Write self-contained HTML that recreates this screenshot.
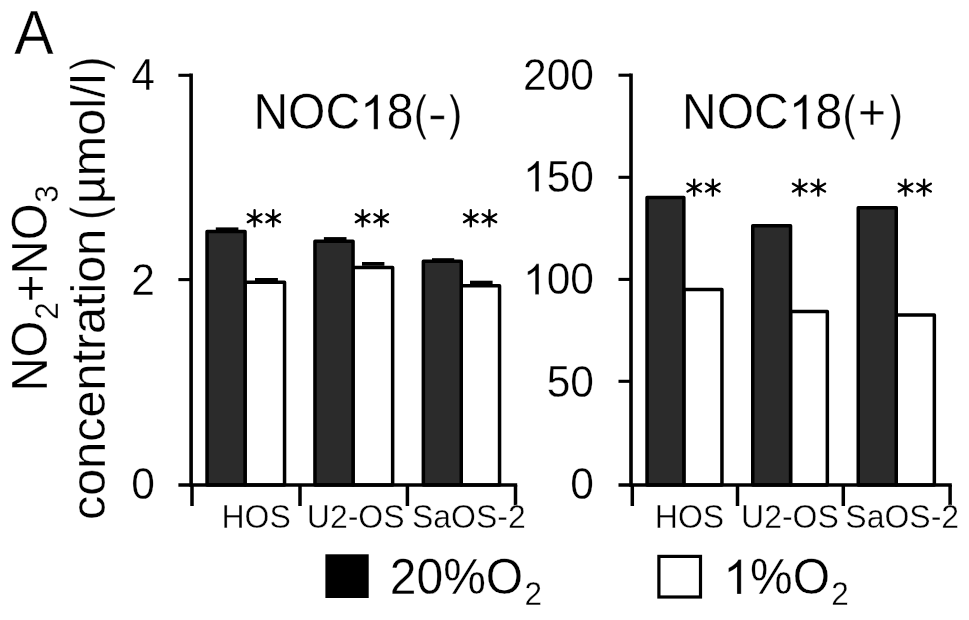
<!DOCTYPE html>
<html><head><meta charset="utf-8"><title>Figure A</title>
<style>html,body{margin:0;padding:0;background:#fff;}body{width:969px;height:620px;overflow:hidden;font-family:"Liberation Sans",sans-serif;}svg{display:block;will-change:transform;}text{font-family:"Liberation Sans",sans-serif;fill:#000;stroke:#fff;stroke-width:0.3px;}</style>
</head><body>
<svg width="969" height="620" viewBox="0 0 969 620">
<rect x="0" y="0" width="969" height="620" fill="#fff"/>
<text transform="translate(14.3,53.6) scale(1,1.068)" font-size="59" text-anchor="start" >A</text>
<text transform="translate(47.0,391.6) rotate(-90) scale(1,1.04)" font-size="47.4">NO<tspan font-size="31.5" dx="0.8" dy="10.8">2</tspan><tspan dy="-10.8">+NO</tspan><tspan font-size="31.5" dx="0.8" dy="10.8">3</tspan></text>
<g transform="translate(104.8,519.9) rotate(-90)">
<text transform="translate(0.00,0) scale(1,1)" font-size="48.5" word-spacing="-5" style="font-kerning:none">concentration <tspan style="fill:none;stroke:none">(</tspan>µmol/l<tspan style="fill:none;stroke:none">)</tspan></text>
<path transform="translate(300.02,0) scale(0.02084,-0.02368)" d="M479 -431Q330 -243 227 9T124 531Q124 769 201 987Q291 1240 479 1491H608Q487 1283 448 1194Q387 1056 352 906Q309 719 309 530Q309 49 608 -431Z" fill="#000" stroke="#fff" stroke-width="0.3" vector-effect="non-scaling-stroke"/>
<path transform="translate(447.89,0) scale(0.02084,-0.02368)" d="M253 -431H124Q423 49 423 530Q423 718 380 903Q346 1053 285 1191Q246 1281 124 1491H253Q441 1240 531 987Q608 769 608 531Q608 261 504.5 9T253 -431Z" fill="#000" stroke="#fff" stroke-width="0.3" vector-effect="non-scaling-stroke"/>
</g>
<rect x="245.05" y="282.35" width="39.50" height="202.65" fill="#fff" stroke="#000" stroke-width="3.5" stroke-linejoin="round"/>
<rect x="353.05" y="267.55" width="39.60" height="217.45" fill="#fff" stroke="#000" stroke-width="3.5" stroke-linejoin="round"/>
<rect x="461.25" y="285.75" width="38.30" height="199.25" fill="#fff" stroke="#000" stroke-width="3.5" stroke-linejoin="round"/>
<rect x="207.05" y="231.55" width="38.00" height="253.45" fill="#2b2b2b" stroke="#000" stroke-width="3.5" stroke-linejoin="round"/>
<rect x="215.8" y="227.4" width="22.60" height="3.8" fill="#000"/>
<rect x="255.0" y="278.0" width="22.90" height="3.8" fill="#000"/>
<path d="M254.60 210.20V226.20M247.85 214.30L261.35 222.10M247.85 222.10L261.35 214.30" fill="none" stroke="#000" stroke-width="2.4" stroke-linecap="round"/>
<path d="M273.20 210.20V226.20M266.45 214.30L279.95 222.10M266.45 222.10L279.95 214.30" fill="none" stroke="#000" stroke-width="2.4" stroke-linecap="round"/>
<rect x="314.95" y="241.25" width="38.10" height="243.75" fill="#2b2b2b" stroke="#000" stroke-width="3.5" stroke-linejoin="round"/>
<rect x="323.9" y="237.1" width="22.60" height="3.8" fill="#000"/>
<rect x="362.0" y="262.0" width="22.40" height="3.8" fill="#000"/>
<path d="M362.60 210.20V226.20M355.85 214.30L369.35 222.10M355.85 222.10L369.35 214.30" fill="none" stroke="#000" stroke-width="2.4" stroke-linecap="round"/>
<path d="M381.20 210.20V226.20M374.45 214.30L387.95 222.10M374.45 222.10L387.95 214.30" fill="none" stroke="#000" stroke-width="2.4" stroke-linecap="round"/>
<rect x="423.35" y="261.15" width="37.90" height="223.85" fill="#2b2b2b" stroke="#000" stroke-width="3.5" stroke-linejoin="round"/>
<rect x="432.0" y="258.2" width="22.20" height="3.8" fill="#000"/>
<rect x="470.0" y="280.7" width="22.60" height="3.8" fill="#000"/>
<path d="M470.80 210.20V226.20M464.05 214.30L477.55 222.10M464.05 222.10L477.55 214.30" fill="none" stroke="#000" stroke-width="2.4" stroke-linecap="round"/>
<path d="M489.40 210.20V226.20M482.65 214.30L496.15 222.10M482.65 222.10L496.15 214.30" fill="none" stroke="#000" stroke-width="2.4" stroke-linecap="round"/>
<line x1="191.1" y1="73.6" x2="191.1" y2="486.7" stroke="#000" stroke-width="3.6"/>
<line x1="178.4" y1="485" x2="517.2" y2="485" stroke="#000" stroke-width="3.6"/>
<line x1="178.4" y1="75.3" x2="191.1" y2="75.3" stroke="#000" stroke-width="3.1"/>
<text transform="translate(154.9,89.6) scale(1,1.05)" font-size="42.5" text-anchor="end" >4</text>
<line x1="178.4" y1="279.6" x2="191.1" y2="279.6" stroke="#000" stroke-width="3.1"/>
<text transform="translate(154.9,295.0) scale(1,1.05)" font-size="42.5" text-anchor="end" >2</text>
<text transform="translate(154.9,499.2) scale(1,1.05)" font-size="42.5" text-anchor="end" >0</text>
<line x1="192.0" y1="485" x2="192.0" y2="506.0" stroke="#000" stroke-width="3.5"/>
<line x1="300.0" y1="485" x2="300.0" y2="506.0" stroke="#000" stroke-width="3.5"/>
<line x1="407.4" y1="485" x2="407.4" y2="506.0" stroke="#000" stroke-width="3.5"/>
<line x1="515.5" y1="485" x2="515.5" y2="506.0" stroke="#000" stroke-width="3.5"/>
<text transform="translate(256.1,528.0) scale(1,1.03)" font-size="32" text-anchor="middle" style="stroke-width:0.4px">HOS</text>
<text transform="translate(355.7,528.0) scale(1,1.03)" font-size="32" text-anchor="middle" style="stroke-width:0.4px">U2-OS</text>
<text transform="translate(468.8,528.0) scale(1,1.03)" font-size="32" text-anchor="middle" style="stroke-width:0.4px">SaOS-2</text>
<g transform="translate(357.4,129.3)">
<text transform="translate(-104.00,0) scale(1,1.04)" font-size="48" style="font-kerning:none">NOC<tspan style="fill:none;stroke:none">1</tspan>8<tspan style="fill:none;stroke:none">(</tspan><tspan style="fill:none;stroke:none">-</tspan><tspan style="fill:none;stroke:none">)</tspan></text>
<path transform="translate(2.66,0) scale(0.02344,-0.02344)" d="M763 0H583V1147Q518 1085 412.5 1023T223 930V1104Q374 1175 487 1276T647 1472H763Z" fill="#000" stroke="#fff" stroke-width="0.3" vector-effect="non-scaling-stroke"/>
<path transform="translate(56.40,0) scale(0.02063,-0.02344)" d="M479 -431Q330 -243 227 9T124 531Q124 769 201 987Q291 1240 479 1491H608Q487 1283 448 1194Q387 1056 352 906Q309 719 309 530Q309 49 608 -431Z" fill="#000" stroke="#fff" stroke-width="0.3" vector-effect="non-scaling-stroke"/>
<path transform="translate(72.04,0) scale(0.02344,-0.02344)" d="M45 428V584H631V428Z" fill="#000" stroke="#fff" stroke-width="0.3" vector-effect="non-scaling-stroke"/>
<path transform="translate(89.73,0) scale(0.02063,-0.02344)" d="M253 -431H124Q423 49 423 530Q423 718 380 903Q346 1053 285 1191Q246 1281 124 1491H253Q441 1240 531 987Q608 769 608 531Q608 261 504.5 9T253 -431Z" fill="#000" stroke="#fff" stroke-width="0.3" vector-effect="non-scaling-stroke"/>
</g>
<rect x="683.85" y="289.45" width="38.10" height="195.55" fill="#fff" stroke="#000" stroke-width="3.5" stroke-linejoin="round"/>
<rect x="790.55" y="311.45" width="36.80" height="173.55" fill="#fff" stroke="#000" stroke-width="3.5" stroke-linejoin="round"/>
<rect x="896.25" y="315.05" width="38.10" height="169.95" fill="#fff" stroke="#000" stroke-width="3.5" stroke-linejoin="round"/>
<rect x="647.05" y="197.55" width="36.80" height="287.45" fill="#2b2b2b" stroke="#000" stroke-width="3.5" stroke-linejoin="round"/>
<path d="M694.20 179.60V195.60M687.45 183.70L700.95 191.50M687.45 191.50L700.95 183.70" fill="none" stroke="#000" stroke-width="2.4" stroke-linecap="round"/>
<path d="M712.80 179.60V195.60M706.05 183.70L719.55 191.50M706.05 191.50L719.55 183.70" fill="none" stroke="#000" stroke-width="2.4" stroke-linecap="round"/>
<rect x="752.75" y="225.75" width="37.80" height="259.25" fill="#2b2b2b" stroke="#000" stroke-width="3.5" stroke-linejoin="round"/>
<path d="M799.70 179.60V195.60M792.95 183.70L806.45 191.50M792.95 191.50L806.45 183.70" fill="none" stroke="#000" stroke-width="2.4" stroke-linecap="round"/>
<path d="M818.30 179.60V195.60M811.55 183.70L825.05 191.50M811.55 191.50L825.05 183.70" fill="none" stroke="#000" stroke-width="2.4" stroke-linecap="round"/>
<rect x="858.25" y="207.75" width="38.00" height="277.25" fill="#2b2b2b" stroke="#000" stroke-width="3.5" stroke-linejoin="round"/>
<path d="M905.50 179.60V195.60M898.75 183.70L912.25 191.50M898.75 191.50L912.25 183.70" fill="none" stroke="#000" stroke-width="2.4" stroke-linecap="round"/>
<path d="M924.10 179.60V195.60M917.35 183.70L930.85 191.50M917.35 191.50L930.85 183.70" fill="none" stroke="#000" stroke-width="2.4" stroke-linecap="round"/>
<line x1="631.0" y1="73.6" x2="631.0" y2="486.7" stroke="#000" stroke-width="3.6"/>
<line x1="618.5" y1="485" x2="951.8" y2="485" stroke="#000" stroke-width="3.6"/>
<line x1="618.5" y1="75.2" x2="631.0" y2="75.2" stroke="#000" stroke-width="3.1"/>
<g transform="translate(594.0,89.7)">
<text transform="translate(-70.91,0) scale(1,1.05)" font-size="42.5" style="font-kerning:none">200</text>
</g>
<line x1="618.5" y1="177.3" x2="631.0" y2="177.3" stroke="#000" stroke-width="3.1"/>
<g transform="translate(594.0,191.6)">
<text transform="translate(-70.91,0) scale(1,1.05)" font-size="42.5" style="font-kerning:none"><tspan style="fill:none;stroke:none">1</tspan>50</text>
<path transform="translate(-70.91,0) scale(0.02075,-0.02075)" d="M763 0H583V1147Q518 1085 412.5 1023T223 930V1104Q374 1175 487 1276T647 1472H763Z" fill="#000" stroke="#fff" stroke-width="0.3" vector-effect="non-scaling-stroke"/>
</g>
<line x1="618.5" y1="279.4" x2="631.0" y2="279.4" stroke="#000" stroke-width="3.1"/>
<g transform="translate(594.0,294.4)">
<text transform="translate(-70.91,0) scale(1,1.05)" font-size="42.5" style="font-kerning:none"><tspan style="fill:none;stroke:none">1</tspan>00</text>
<path transform="translate(-70.91,0) scale(0.02075,-0.02075)" d="M763 0H583V1147Q518 1085 412.5 1023T223 930V1104Q374 1175 487 1276T647 1472H763Z" fill="#000" stroke="#fff" stroke-width="0.3" vector-effect="non-scaling-stroke"/>
</g>
<line x1="618.5" y1="381.3" x2="631.0" y2="381.3" stroke="#000" stroke-width="3.1"/>
<g transform="translate(594.0,396.5)">
<text transform="translate(-47.27,0) scale(1,1.05)" font-size="42.5" style="font-kerning:none">50</text>
</g>
<g transform="translate(594.0,498.6)">
<text transform="translate(-23.64,0) scale(1,1.05)" font-size="42.5" style="font-kerning:none">0</text>
</g>
<line x1="632.3" y1="485" x2="632.3" y2="506.0" stroke="#000" stroke-width="3.5"/>
<line x1="737.5" y1="485" x2="737.5" y2="506.0" stroke="#000" stroke-width="3.5"/>
<line x1="843.3" y1="485" x2="843.3" y2="506.0" stroke="#000" stroke-width="3.5"/>
<line x1="950.1" y1="485" x2="950.1" y2="506.0" stroke="#000" stroke-width="3.5"/>
<text transform="translate(689.5,527.8) scale(1,1.03)" font-size="32" text-anchor="middle" style="stroke-width:0.4px">HOS</text>
<text transform="translate(789.9,527.8) scale(1,1.03)" font-size="32" text-anchor="middle" style="stroke-width:0.4px">U2-OS</text>
<text transform="translate(902.2,527.8) scale(1,1.03)" font-size="32" text-anchor="middle" style="stroke-width:0.4px">SaOS-2</text>
<g transform="translate(792.1,129.3)">
<text transform="translate(-110.03,0) scale(1,1.04)" font-size="48" style="font-kerning:none">NOC<tspan style="fill:none;stroke:none">1</tspan>8<tspan style="fill:none;stroke:none">(</tspan>+<tspan style="fill:none;stroke:none">)</tspan></text>
<path transform="translate(-3.36,0) scale(0.02344,-0.02344)" d="M763 0H583V1147Q518 1085 412.5 1023T223 930V1104Q374 1175 487 1276T647 1472H763Z" fill="#000" stroke="#fff" stroke-width="0.3" vector-effect="non-scaling-stroke"/>
<path transform="translate(50.38,0) scale(0.02063,-0.02344)" d="M479 -431Q330 -243 227 9T124 531Q124 769 201 987Q291 1240 479 1491H608Q487 1283 448 1194Q387 1056 352 906Q309 719 309 530Q309 49 608 -431Z" fill="#000" stroke="#fff" stroke-width="0.3" vector-effect="non-scaling-stroke"/>
<path transform="translate(95.75,0) scale(0.02063,-0.02344)" d="M253 -431H124Q423 49 423 530Q423 718 380 903Q346 1053 285 1191Q246 1281 124 1491H253Q441 1240 531 987Q608 769 608 531Q608 261 504.5 9T253 -431Z" fill="#000" stroke="#fff" stroke-width="0.3" vector-effect="non-scaling-stroke"/>
</g>
<rect x="325.4" y="554.3" width="43.3" height="43.7" fill="#000"/>
<text transform="translate(389.8,594.0) scale(1,1.03)" font-size="48">20%O<tspan font-size="31.5" dx="1.2" dy="10.6">2</tspan></text>
<rect x="658.9" y="556.4" width="41.6" height="40.6" fill="#fff" stroke="#000" stroke-width="3.2"/>
<g transform="translate(723.3,594.0)">
<text transform="translate(0.00,0) scale(1,1.03)" font-size="48" style="font-kerning:none"><tspan style="fill:none;stroke:none">1</tspan>%O<tspan font-size="31.5" dx="1.2" dy="10.6">2</tspan></text>
<path transform="translate(0.00,0) scale(0.02344,-0.02344)" d="M763 0H583V1147Q518 1085 412.5 1023T223 930V1104Q374 1175 487 1276T647 1472H763Z" fill="#000" stroke="#fff" stroke-width="0.3" vector-effect="non-scaling-stroke"/>
</g>
</svg>
</body></html>
